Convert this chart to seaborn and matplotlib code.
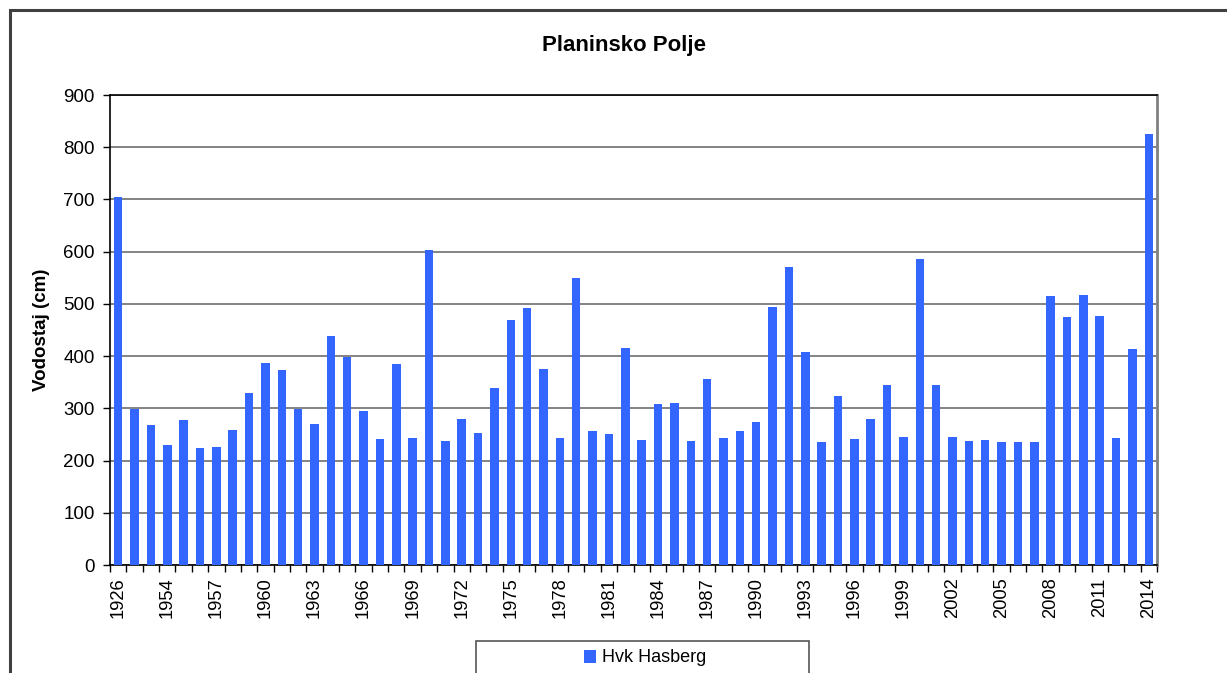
import matplotlib
matplotlib.use("Agg")
import matplotlib.pyplot as plt
import matplotlib.patches as mpatches
from matplotlib.ticker import FixedLocator, NullFormatter
import seaborn as sns
import pandas as pd

# ---- data ----
years = ["1926", "1952", "1953"] + [str(y) for y in range(1954, 2015)]
levels = [705, 299, 268, 230, 278, 224, 226, 259, 330, 387,
          374, 299, 270, 439, 398, 295, 241, 385, 243, 603,
          238, 280, 253, 339, 469, 492, 375, 243, 550, 257,
          251, 416, 239, 308, 310, 238, 356, 243, 257, 274,
          494, 571, 408, 236, 324, 241, 280, 345, 245, 586,
          345, 245, 238, 239, 236, 236, 236, 515, 475, 517,
          477, 243, 414, 826]
series_name = "Hvk Hasberg"
title = "Planinsko Polje"
ylabel = "Vodostaj (cm)"
yticks = [0, 100, 200, 300, 400, 500, 600, 700, 800, 900]

df = pd.DataFrame({"year": years, "level": levels})

sns.set_style("white")
plt.rcParams["font.family"] = ["Liberation Sans", "DejaVu Sans"]
plt.rcParams["text.color"] = "black"
plt.rcParams["xtick.color"] = "black"
plt.rcParams["ytick.color"] = "black"
plt.rcParams["axes.labelcolor"] = "black"

W, H = 1227, 673
fig = plt.figure(figsize=(W / 100, H / 100), dpi=100)
fig.patch.set_facecolor("white")

# plot area
left, right, top, bottom = 110, 1157, 95, 565
ax = fig.add_axes([left / W, 1 - bottom / H, (right - left) / W, (bottom - top) / H])

bar_color = "#3366FF"
sns.barplot(data=df, x="year", y="level", color=bar_color, saturation=1,
            width=0.52, linewidth=0, ax=ax, zorder=3)

n = len(years)
ax.set_xlim(-0.5, n - 0.5)
ax.set_ylim(0, 900)
ax.set_yticks(yticks)
ax.set_yticklabels([str(v) for v in yticks], fontsize=13.5, color="black")
ax.yaxis.grid(True, color="#6e6e6e", linewidth=1.2, zorder=0)
ax.set_axisbelow(True)

# x labels: every 3rd year, rotated; tick marks at category boundaries
ax.set_xticks(range(0, n, 3))
ax.set_xticklabels([years[i] for i in range(0, n, 3)], rotation=90, fontsize=13.2, color="black")
ax.tick_params(axis="x", which="major", length=0, pad=9)
ax.xaxis.set_minor_locator(FixedLocator([i - 0.5 for i in range(n + 1)]))
ax.xaxis.set_minor_formatter(NullFormatter())
ax.tick_params(axis="x", which="minor", length=5, width=1, color="black", direction="out", bottom=True)
ax.tick_params(axis="y", which="major", length=5, width=1, color="black", direction="out", left=True, pad=6)

ax.set_xlabel("")
ax.set_ylabel("")

for s in ["left", "bottom", "top"]:
    ax.spines[s].set_color("black")
    ax.spines[s].set_linewidth(1.2)
ax.spines["right"].set_color("#808080")
ax.spines["right"].set_linewidth(2)

# title and y label
fig.text(624 / W, 1 - 45 / H, title, ha="center", va="center", fontsize=16,
         fontweight="bold", color="black")
fig.text(42 / W, 1 - 330 / H, ylabel, ha="center", va="center", rotation=90,
         fontsize=13.5, fontweight="bold", color="black")

# outer chart border (cut off at right/bottom like the original)
fig.add_artist(mpatches.Rectangle((10 / W, -0.2), 1.2, 1.2 - 10 / H, transform=fig.transFigure,
                                  fill=False, edgecolor="#404040", linewidth=2.2))

# legend box (extends below the image edge)
fig.add_artist(mpatches.Rectangle((476 / W, -0.05), (809 - 476) / W, 0.05 + (1 - 641 / H),
                                  transform=fig.transFigure, fill=False,
                                  edgecolor="#555555", linewidth=1.2))
handle = mpatches.Patch(facecolor=bar_color, edgecolor="none", label=series_name)
leg = fig.legend(handles=[handle], loc="center", bbox_to_anchor=(645 / W, 1 - 658 / H),
                 frameon=False, fontsize=13, handlelength=0.7, handleheight=0.7,
                 handletextpad=0.3, borderpad=0)
for t in leg.get_texts():
    t.set_color("black")

fig.savefig("out.png", dpi=100, facecolor="white")
